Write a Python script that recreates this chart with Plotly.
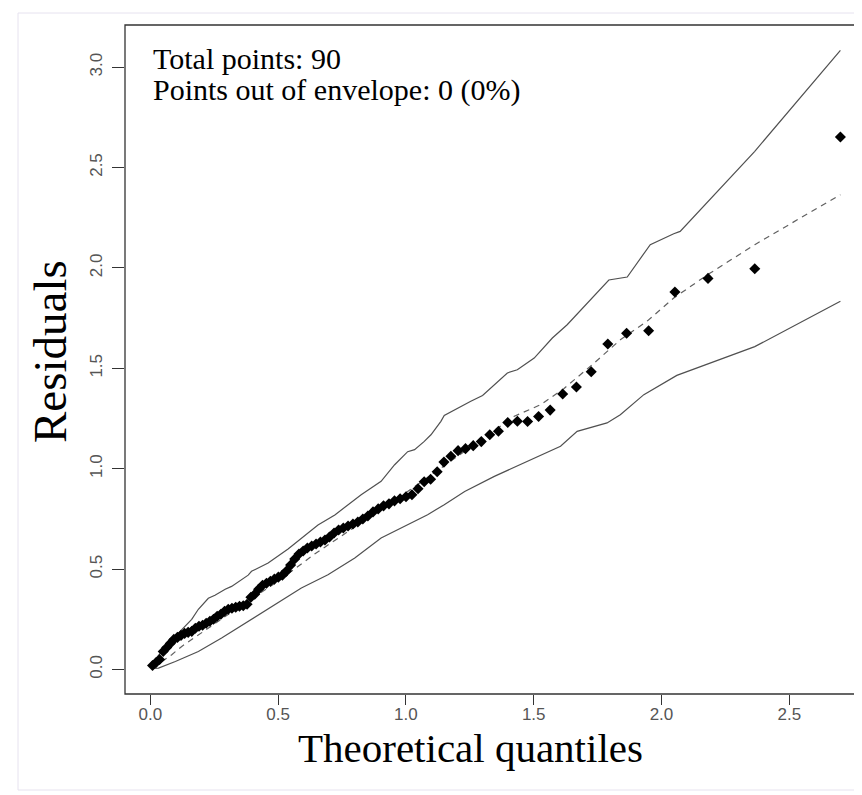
import plotly.graph_objects as go

# Theoretical half-normal quantiles (x) and sorted residuals (y)
quantiles = [
    0.0087, 0.0226, 0.0365, 0.0504, 0.0643, 0.0782, 0.0921, 0.1061, 0.1201, 0.1341,
    0.1481, 0.1622, 0.1762, 0.1904, 0.2045, 0.2187, 0.2330, 0.2473, 0.2616, 0.2760,
    0.2905, 0.3050, 0.3195, 0.3342, 0.3489, 0.3637, 0.3786, 0.3935, 0.4086, 0.4237,
    0.4391, 0.4545, 0.4699, 0.4854, 0.5009, 0.5168, 0.5329, 0.5490, 0.5650, 0.5816,
    0.5981, 0.6146, 0.6314, 0.6485, 0.6657, 0.6834, 0.7010, 0.7189, 0.7367, 0.7551,
    0.7737, 0.7928, 0.8119, 0.8314, 0.8512, 0.8713, 0.8916, 0.9125, 0.9338, 0.9555,
    0.9775, 1.0005, 1.0236, 1.0474, 1.0715, 1.0967, 1.1224, 1.1488, 1.1760, 1.2042,
    1.2332, 1.2634, 1.2950, 1.3281, 1.3621, 1.3985, 1.4361, 1.4761, 1.5192, 1.5645,
    1.6135, 1.6672, 1.7251, 1.7900, 1.8635, 1.9497, 2.0525, 2.1820, 2.3650, 2.7000,
]
residuals = [
    0.020, 0.035, 0.050, 0.090, 0.110, 0.130, 0.150, 0.160, 0.170, 0.180,
    0.185, 0.190, 0.205, 0.215, 0.220, 0.230, 0.240, 0.250, 0.265, 0.275,
    0.290, 0.300, 0.305, 0.310, 0.315, 0.318, 0.325, 0.360, 0.375, 0.400,
    0.420, 0.430, 0.440, 0.450, 0.460, 0.470, 0.490, 0.520, 0.550, 0.575,
    0.590, 0.605, 0.615, 0.625, 0.635, 0.645, 0.660, 0.680, 0.695, 0.705,
    0.715, 0.725, 0.735, 0.750, 0.765, 0.785, 0.800, 0.815, 0.825, 0.840,
    0.850, 0.860, 0.870, 0.900, 0.935, 0.948, 0.985, 1.033, 1.062, 1.090,
    1.100, 1.115, 1.135, 1.169, 1.187, 1.230, 1.236, 1.235, 1.260, 1.292,
    1.372, 1.407, 1.483, 1.621, 1.675, 1.687, 1.880, 1.948, 1.996, 2.652,
]

# Simulated envelope: upper bound
upper_x = [0.009, 0.019, 0.071, 0.123, 0.162, 0.188, 0.227, 0.253, 0.293, 0.318,
           0.383, 0.396, 0.461, 0.539, 0.591, 0.656, 0.722, 0.825, 0.903, 0.956,
           1.007, 1.034, 1.072, 1.098, 1.137, 1.150, 1.254, 1.300, 1.397, 1.436,
           1.502, 1.573, 1.631, 1.794, 1.866, 1.956, 2.048, 2.073, 2.365, 2.700]
upper_y = [0.030, 0.050, 0.130, 0.200, 0.250, 0.300, 0.355, 0.370, 0.400, 0.414,
           0.470, 0.489, 0.530, 0.600, 0.655, 0.720, 0.770, 0.870, 0.937, 1.020,
           1.085, 1.095, 1.136, 1.169, 1.236, 1.265, 1.336, 1.365, 1.477, 1.493,
           1.551, 1.651, 1.717, 1.940, 1.955, 2.116, 2.170, 2.182, 2.581, 3.084]

# Lower bound
lower_x = [0.009, 0.032, 0.098, 0.188, 0.279, 0.383, 0.488, 0.591, 0.695, 0.800,
           0.903, 0.981, 1.085, 1.150, 1.230, 1.346, 1.475, 1.605, 1.670, 1.787,
           1.839, 1.931, 2.060, 2.184, 2.365, 2.700]
lower_y = [0.005, 0.007, 0.040, 0.090, 0.157, 0.240, 0.323, 0.406, 0.472, 0.555,
           0.655, 0.705, 0.771, 0.821, 0.887, 0.962, 1.037, 1.112, 1.186, 1.228,
           1.269, 1.369, 1.465, 1.522, 1.608, 1.834]

# Median of simulated envelope (dashed)
median_x = [0.009, 0.084, 0.123, 0.300, 0.500, 0.643, 0.800, 1.000, 1.200, 1.424,
            1.527, 1.619, 1.729, 1.839, 1.943, 2.048, 2.180, 2.365, 2.700]
median_y = [0.008, 0.074, 0.115, 0.270, 0.440, 0.575, 0.710, 0.880, 1.060, 1.261,
            1.319, 1.400, 1.518, 1.642, 1.734, 1.850, 1.966, 2.116, 2.365]

x_ticks = [0.0, 0.5, 1.0, 1.5, 2.0, 2.5]
x_tick_labels = ["0.0", "0.5", "1.0", "1.5", "2.0", "2.5"]
y_ticks = [0.0, 0.5, 1.0, 1.5, 2.0, 2.5, 3.0]
y_tick_labels = ["0.0", "0.5", "1.0", "1.5", "2.0", "2.5", "3.0"]

line_col = "#505050"

fig = go.Figure()
fig.add_trace(go.Scatter(x=upper_x, y=upper_y, mode="lines",
                         line=dict(color=line_col, width=1.2), hoverinfo="skip"))
fig.add_trace(go.Scatter(x=lower_x, y=lower_y, mode="lines",
                         line=dict(color=line_col, width=1.2), hoverinfo="skip"))
fig.add_trace(go.Scatter(x=median_x, y=median_y, mode="lines",
                         line=dict(color="#606060", width=1.2, dash="6px,5px"), hoverinfo="skip"))
fig.add_trace(go.Scatter(x=quantiles, y=residuals, mode="markers",
                         marker=dict(symbol="diamond", size=8.5, color="black")))

W, H = 862, 795
L, R, T, B = 117, 2, 17, 109
PW, PH = W - L - R, H - T - B


def px(x):
    return (x - L) / PW


def py(y):
    return (H - B - y) / PH


fig.update_layout(
    width=W, height=H,
    margin=dict(l=L, r=R, t=T, b=B, pad=0),
    paper_bgcolor="white", plot_bgcolor="white",
    showlegend=False,
    xaxis=dict(range=[-0.099, 2.808], tickvals=x_ticks, ticktext=x_tick_labels,
               ticks="outside", ticklen=10, tickcolor="#333333", tickwidth=1.2,
               ticklabelstandoff=-5,
               showgrid=False, zeroline=False, showline=False,
               tickfont=dict(family="Liberation Sans, Arial", size=17, color="#555555")),
    yaxis=dict(range=[-0.122, 3.21], tickvals=y_ticks, ticktext=y_tick_labels,
               ticks="outside", ticklen=12, tickcolor="#333333", tickwidth=1.2,
               tickangle=-90, ticklabelstandoff=3,
               showgrid=False, zeroline=False, showline=False,
               tickfont=dict(family="Liberation Sans, Arial", size=17, color="#555555")),
    shapes=[
        dict(type="rect", xref="paper", yref="paper", x0=0, y0=0, x1=1, y1=1,
             line=dict(color="#333333", width=1.3)),
        dict(type="rect", xref="paper", yref="paper",
             x0=px(10), x1=px(861), y0=py(782), y1=py(5),
             line=dict(color="#e6e2ef", width=1)),
    ],
    annotations=[
        dict(text="Total points: 90", xref="paper", yref="paper",
             x=px(143), y=py(50),
             xanchor="left", yanchor="middle", showarrow=False,
             font=dict(family="Liberation Serif, Times New Roman", size=30, color="black")),
        dict(text="Points out of envelope: 0 (0%)", xref="paper", yref="paper",
             x=px(143), y=py(82),
             xanchor="left", yanchor="middle", showarrow=False,
             font=dict(family="Liberation Serif, Times New Roman", size=30, color="black")),
        dict(text="Theoretical quantiles", xref="paper", yref="paper",
             x=px(462), y=py(740),
             xanchor="center", yanchor="middle", showarrow=False,
             font=dict(family="Liberation Serif, Times New Roman", size=41, color="black")),
        dict(text="Residuals", xref="paper", yref="paper",
             x=px(42), y=py(344),
             xanchor="center", yanchor="middle", showarrow=False, textangle=-90,
             font=dict(family="Liberation Serif, Times New Roman", size=47, color="black")),
    ],
)

fig.write_html("out.html")
